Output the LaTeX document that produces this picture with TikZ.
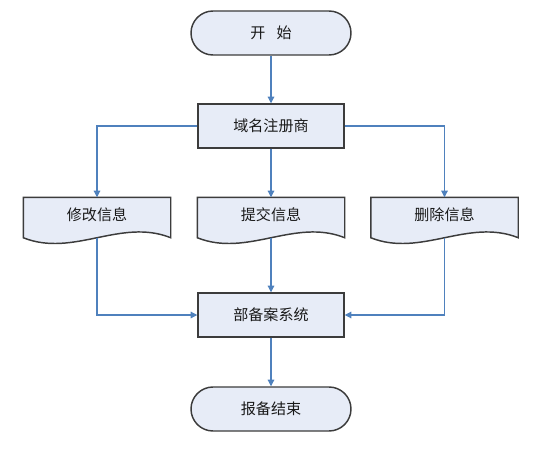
\documentclass[tikz,border=0pt]{standalone}
\usepackage{fontspec}
\setmainfont{Noto Sans CJK SC}
\usetikzlibrary{arrows.meta}
\definecolor{boxfill}{RGB}{231,236,247}
\definecolor{boxline}{RGB}{60,60,60}
\definecolor{arr}{RGB}{79,129,189}
\begin{document}
\begin{tikzpicture}[x=0.75pt,y=-0.75pt,
  base/.style={fill=boxfill,line width=1.1pt,inner sep=0pt,font=\fontsize{11.3pt}{13pt}\selectfont,text=black!90},
  term/.style={base,draw=boxline,rounded corners=16.5pt,minimum width=120pt,minimum height=33pt},
  proc/.style={base,draw=boxline,minimum width=109.5pt,minimum height=33pt},
  docnode/.style={base,fill=none,draw=none,minimum width=109.5pt,minimum height=24.75pt},
  docline/.style={draw=boxline,fill=boxfill,line width=1.1pt},
  conn/.style={draw=arr,line width=0.8pt,-{Triangle[length=5pt,width=5pt]}}]
\useasboundingbox (0,0) rectangle (541,456);
\node[term] (start) at (271,33) {开\hspace{0.75em}始};
\node[proc] (reg) at (271,126) {域名注册商};
\node[docnode] (d1) at (97,214.5) {};
\node[docnode] (d2) at (271,214.5) {};
\node[docnode] (d3) at (444.5,214.5) {};
\foreach \n in {d1,d2,d3}{
  \draw[docline] (\n.north west) -- (\n.north east) -- ([yshift=-4.5pt]\n.south east)
    .. controls +(-50,-20) and +(50,20) .. ([yshift=-4.5pt]\n.south west) -- cycle;
}
\node[docnode] at (d1) {修改信息};
\node[docnode] at (d2) {提交信息};
\node[docnode] at (d3) {删除信息};
\node[proc] (sys) at (271,315) {部备案系统};
\node[term] (end) at (271,409) {报备结束};
\draw[conn] (start.south) -- (reg.north);
\draw[conn] (reg.west) -| (d1.north);
\draw[conn] (reg.east) -| (d3.north);
\draw[conn] (reg.south) -- (d2.north);
\draw[conn] ([yshift=-4.5pt]d1.south) |- (sys.west);
\draw[conn] ([yshift=-4.5pt]d3.south) |- (sys.east);
\draw[conn] ([yshift=-4.5pt]d2.south) -- (sys.north);
\draw[conn] (sys.south) -- (end.north);
\end{tikzpicture}
\end{document}
